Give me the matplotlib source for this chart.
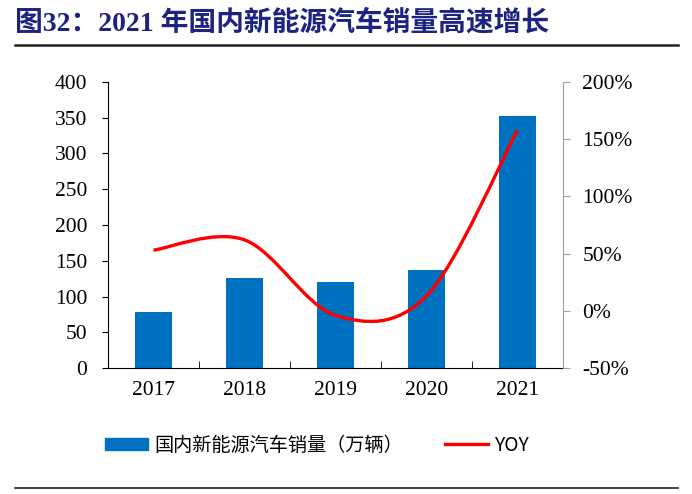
import numpy as np
import matplotlib.pyplot as plt
from matplotlib.path import Path
from matplotlib.patches import PathPatch, Patch
from matplotlib.lines import Line2D

years = ["2017", "2018", "2019", "2020", "2021"]
sales = [77.7, 125.6, 120.6, 136.7, 352.1]      # 万辆
yoy = [53, 62, -4, 13, 158]                      # %

title = "图32：2021 年国内新能源汽车销量高速增长"
bar_label = "国内新能源汽车销量（万辆）"
line_label = "YOY"

serif = ["Liberation Serif", "Noto Sans CJK SC"]
cjk = ["Noto Sans CJK SC", "DejaVu Sans"]

fig = plt.figure(figsize=(6.92, 4.94), dpi=100)
ax = fig.add_axes([108 / 692, 1 - 368 / 494, (563 - 108) / 692, (368 - 82) / 494])
ax2 = ax.twinx()

x = np.arange(len(years))
ax.bar(x, sales, width=0.4, color="#0070C0", zorder=2)
ax.set_xlim(-0.5, len(years) - 0.5)
ax.set_ylim(0, 400)
ax.set_yticks(range(0, 401, 50))
ax.set_xticks(x)
ax.set_xticklabels(years)
ax.set_xticks(np.arange(-0.5, len(years)), minor=True)
ax.tick_params(axis="x", which="major", length=0, pad=9)
ax.tick_params(axis="x", which="minor", direction="in", length=5, color="black")
ax.tick_params(axis="y", direction="out", length=4, color="black", pad=11)
for t in ax.get_xticklabels() + ax.get_yticklabels():
    t.set_family(serif)
    t.set_fontsize(15.5)

for s in ["top", "right"]:
    ax.spines[s].set_visible(False)
ax2.spines["top"].set_visible(False)
ax2.spines["left"].set_visible(False)
ax2.spines["bottom"].set_visible(False)
ax2.spines["right"].set_color("#A0A0A0")
ax.spines["left"].set_color("black")
ax.spines["bottom"].set_color("black")

# smoothed YOY line (Catmull-Rom style bezier through data points)
y = np.array(yoy, dtype=float)
pts = np.column_stack([x, y])
verts = [pts[0]]
codes = [Path.MOVETO]
n = len(pts)
for i in range(n - 1):
    p0 = pts[max(i - 1, 0)]
    p1 = pts[i]
    p2 = pts[i + 1]
    p3 = pts[min(i + 2, n - 1)]
    c1 = p1 + (p2 - p0) / 6
    c2 = p2 - (p3 - p1) / 6
    verts += [c1, c2, p2]
    codes += [Path.CURVE4] * 3
ax2.add_patch(PathPatch(Path(verts, codes), fill=False, edgecolor="#FF0000",
                        lw=2.4, capstyle="butt", zorder=3))
ax2.set_ylim(-50, 200)
ax2.set_yticks(range(-50, 201, 50))
ax2.set_yticklabels([f"{v}%" for v in range(-50, 201, 50)])
ax2.tick_params(axis="y", direction="out", length=5, color="#A0A0A0", pad=9)
for t in ax2.get_yticklabels():
    t.set_family(serif)
    t.set_fontsize(15.5)

# title and rules
fig.text(15 / 692, 1 - 23 / 494, title, family=serif, fontweight="bold",
         fontsize=20, color="#1C2380", va="center", ha="left")
fig.add_artist(Line2D([15 / 692, 678 / 692], [1 - 45 / 494] * 2, color="#222222", lw=1.8))
fig.add_artist(Line2D([15 / 692, 678 / 692], [1 - 488 / 494] * 2, color="#222222", lw=1.2))

# legend
handles = [Patch(color="#0070C0"), Line2D([], [], color="#FF0000", lw=2.4)]
leg = fig.legend(handles, [bar_label, line_label], loc="center left",
                 bbox_to_anchor=(105 / 692, 1 - 445 / 494), ncol=2, frameon=False,
                 borderpad=0, borderaxespad=0,
                 handlelength=2.25, handleheight=0.6, columnspacing=2.2,
                 handletextpad=0.33, prop={"family": cjk, "size": 13.8})

fig.savefig("out.png", dpi=100)
